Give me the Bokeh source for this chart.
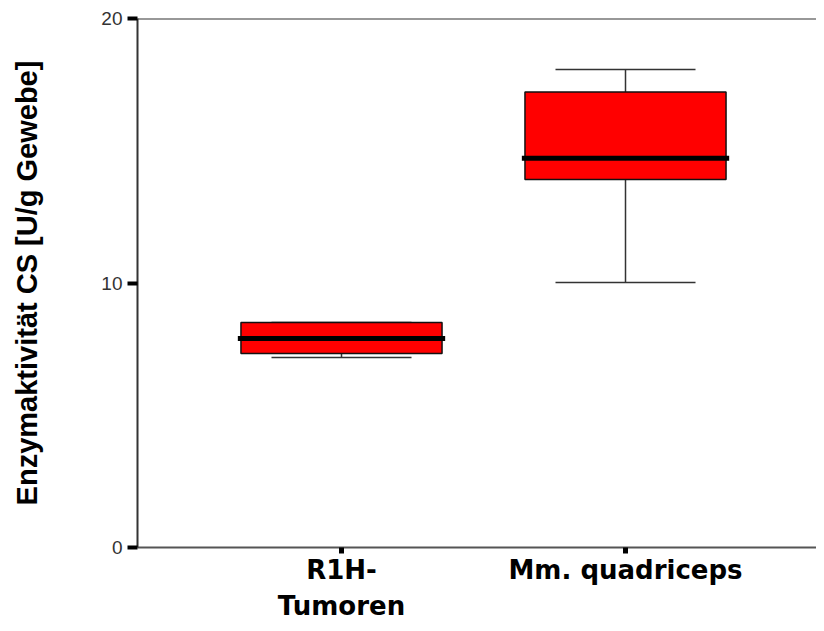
from bokeh.plotting import figure
from bokeh.models import Range1d, FixedTicker, Span
from bokeh.embed import file_html
from bokeh.resources import INLINE

# ---- data ----
categories = ["R1H-\nTumoren", "Mm. quadriceps"]
q1 = [7.33, 13.91]
median = [7.90, 14.72]
q3 = [8.51, 17.22]
lower = [7.18, 10.02]
upper = [8.51, 18.07]
y_ticks = [0, 10, 20]
y_title = "Enzymaktivität CS [U/g Gewebe]"

xs = [i + 1 for i in range(len(categories))]
BOX_W = 0.708
CAP_W = 0.493
MED_W = 0.73

p = figure(width=816, height=623, output_backend="svg", toolbar_location=None,
           x_range=Range1d(0.2817, 2.6725), y_range=Range1d(0, 20),
           min_border_left=137, min_border_right=0, min_border_top=18,
           min_border_bottom=76, outline_line_color=None,
           background_fill_color="white", border_fill_color="white")
p.xgrid.visible = False
p.ygrid.visible = False

# whiskers
p.segment(x0=xs, x1=xs, y0=q3, y1=upper, line_color="#333333", line_width=1.5)
p.segment(x0=xs, x1=xs, y0=q1, y1=lower, line_color="#333333", line_width=1.5)
p.segment(x0=[x - CAP_W / 2 for x in xs], x1=[x + CAP_W / 2 for x in xs],
          y0=upper, y1=upper, line_color="#333333", line_width=1.5)
p.segment(x0=[x - CAP_W / 2 for x in xs], x1=[x + CAP_W / 2 for x in xs],
          y0=lower, y1=lower, line_color="#333333", line_width=1.5)
# boxes
p.vbar(x=xs, width=BOX_W, top=q3, bottom=q1, fill_color="#FF0000",
       line_color="#111111", line_width=1.5)
# medians
p.segment(x0=[x - MED_W / 2 for x in xs], x1=[x + MED_W / 2 for x in xs],
          y0=median, y1=median, line_color="black", line_width=5)

# top frame line
p.add_layout(Span(location=20, dimension="width", line_color="#333333", line_width=2))

# y axis
ya = p.yaxis[0]
ya.ticker = FixedTicker(ticks=y_ticks, minor_ticks=[])
ya.axis_line_color = "#333333"
ya.axis_line_width = 2
ya.major_tick_out = 10
ya.major_tick_in = 0
ya.major_tick_line_width = 4
ya.major_tick_line_color = "black"
ya.minor_tick_line_color = None
ya.major_label_text_font = "Liberation Sans"
ya.major_label_text_font_size = "19px"
ya.major_label_text_color = "#333333"
ya.major_label_standoff = 5
ya.axis_label = y_title
ya.axis_label_text_font = "Liberation Sans"
ya.axis_label_text_font_style = "bold"
ya.axis_label_text_font_size = "29px"
ya.axis_label_text_color = "black"
ya.axis_label_standoff = 55

# x axis
xa = p.xaxis[0]
xa.ticker = FixedTicker(ticks=xs, minor_ticks=[])
xa.major_label_overrides = {x: c for x, c in zip(xs, categories)}
xa.axis_line_color = "#555555"
xa.axis_line_width = 2
xa.major_tick_out = 6
xa.major_tick_in = 0
xa.major_tick_line_width = 5
xa.major_tick_line_color = "black"
xa.minor_tick_line_color = None
xa.major_label_text_font = "DejaVu Sans"
xa.major_label_text_font_style = "bold"
xa.major_label_text_font_size = "26px"
xa.major_label_text_color = "black"
xa.major_label_standoff = 1

open("out.html", "w").write(file_html(p, INLINE))
